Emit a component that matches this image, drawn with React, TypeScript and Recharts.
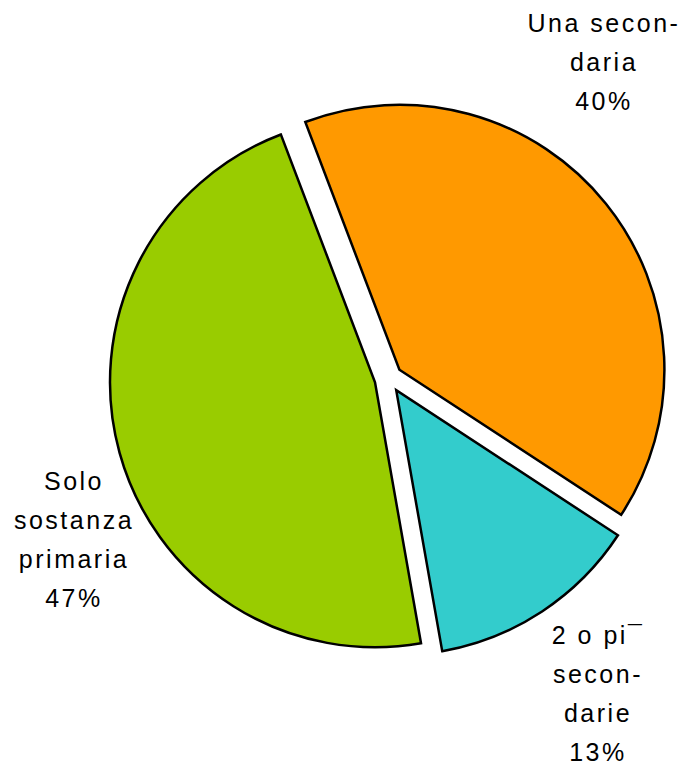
import { PieChart, Pie, Cell } from "recharts";

const categories = ["Una secondaria", "2 o pi¯ secondarie", "Solo sostanza primaria"];
const labelLines = [
  ["Una secon-", "daria"],
  ["2 o pi¯", "secon-", "darie"],
  ["Solo", "sostanza", "primaria"],
];
const shares = [40, 13, 47];
const colors = ["#FF9900", "#33CCCC", "#99CC00"];

const data = categories.map((name, i) => ({ name, value: shares[i] }));

const W = 686;
const H = 765;
const CX = 388.5;
const CY = 378.5;
const R = 265;
const EXPLODE = 14;
const START = 110.8;
const END = START - 360;
const LINE_H = 39;

// where each label block starts (first baseline, centred)
const labelAnchors = [
  { x: 604, y: 32 },
  { x: 598, y: 644 },
  { x: 74, y: 490 },
];

const total = shares.reduce((a, b) => a + b, 0);
const offsets = shares.map((v, i) => {
  const before = shares.slice(0, i).reduce((a, b) => a + b, 0);
  const mid = START - ((before + v / 2) / total) * 360;
  const rad = (mid * Math.PI) / 180;
  return { dx: Math.cos(rad) * EXPLODE, dy: -Math.sin(rad) * EXPLODE };
});

const renderLabel = (slice: number) => (props: any) => {
  if (props.index !== slice) return null;
  const a = labelAnchors[slice];
  const lines = [...labelLines[slice], `${shares[slice]}%`];
  return (
    <text
      x={a.x}
      y={a.y}
      textAnchor="middle"
      fontFamily="'Liberation Sans', Arial, sans-serif"
      fontSize={25}
      letterSpacing={2.5}
      fill="#000"
    >
      {lines.map((l, k) => (
        <tspan key={k} x={a.x} y={a.y + k * LINE_H}>
          {l}
        </tspan>
      ))}
    </text>
  );
};

export default function App() {
  return (
    <div style={{ position: "absolute", left: 0, top: 0, background: "#fff" }}>
      <PieChart width={W} height={H} margin={{ top: 0, right: 0, bottom: 0, left: 0 }}>
        {shares.map((_, s) => (
          <Pie
            key={s}
            data={data}
            dataKey="value"
            cx={CX + offsets[s].dx}
            cy={CY + offsets[s].dy}
            outerRadius={R}
            startAngle={START}
            endAngle={END}
            isAnimationActive={false}
            label={renderLabel(s)}
            labelLine={false}
          >
            {data.map((_, i) => (
              <Cell
                key={`cell-${i}`}
                fill={i === s ? colors[i] : "none"}
                stroke={i === s ? "#000" : "none"}
                strokeWidth={2.5}
              />
            ))}
          </Pie>
        ))}
      </PieChart>
    </div>
  );
}
